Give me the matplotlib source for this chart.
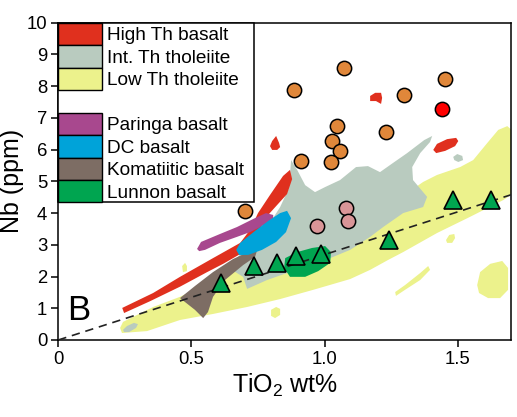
import matplotlib.pyplot as plt
from matplotlib.patches import Patch

plt.rcParams['font.family'] = ['Liberation Sans', 'DejaVu Sans']
plt.rcParams['mathtext.default'] = 'regular'

# sample points (TiO2 wt%, Nb ppm)
orange_tio2 = [0.885, 1.071, 1.452, 1.298, 1.047, 1.232, 1.029, 1.056, 0.912, 1.024, 0.701]
orange_nb = [7.88, 8.56, 8.22, 7.72, 6.74, 6.55, 6.28, 5.96, 5.65, 5.61, 4.07]
red_tio2 = [1.439]
red_nb = [7.29]
pink_tio2 = [0.971, 1.081, 1.087]
pink_nb = [3.59, 4.15, 3.76]
lunnon_tio2 = [0.610, 0.733, 0.820, 0.893, 0.986, 1.240, 1.482, 1.624]
lunnon_nb = [1.81, 2.33, 2.42, 2.64, 2.71, 3.16, 4.42, 4.40]

# reference line through origin
ref_x = [0, 1.72]
ref_y = [0, 4.63]

# compositional fields, outlines as (TiO2, Nb)
low_th = [(0.239, 0.22), (0.333, 0.28), (0.457, 0.63), (0.581, 0.82), (0.709, 1.04), (0.833, 1.29),
          (0.957, 1.58), (1.096, 1.92), (1.171, 2.21), (1.238, 2.52), (1.295, 2.77), (1.422, 3.37),
          (1.546, 3.88), (1.671, 4.41), (1.716, 4.66), (1.716, 6.52), (1.686, 6.74), (1.652, 6.62),
          (1.611, 6.21), (1.558, 5.67), (1.509, 5.45), (1.422, 5.20), (1.370, 4.98), (1.284, 4.48),
          (1.171, 3.94), (1.058, 3.47), (0.908, 2.99), (0.758, 2.46), (0.607, 1.99), (0.544, 1.73),
          (0.457, 1.36), (0.356, 1.04), (0.243, 0.57), (0.232, 0.38)]
low_th_small = [
    [(0.465, 2.33), (0.476, 2.43), (0.483, 2.33), (0.483, 2.17), (0.468, 2.14)],
    [(0.799, 0.95), (0.818, 1.04), (0.833, 0.98), (0.833, 0.79), (0.814, 0.69), (0.799, 0.76)],
    [(1.456, 3.15), (1.468, 3.31), (1.487, 3.34), (1.490, 3.21), (1.479, 3.06), (1.460, 3.06)],
    [(1.265, 1.51), (1.302, 1.73), (1.359, 2.11), (1.389, 2.33), (1.396, 2.21), (1.359, 1.89),
     (1.302, 1.58), (1.268, 1.39)],
    [(1.573, 1.73), (1.584, 2.14), (1.622, 2.40), (1.667, 2.49), (1.689, 2.27), (1.689, 1.58),
     (1.659, 1.32), (1.614, 1.32), (1.580, 1.48)],
]

int_th = [(0.874, 5.67), (0.897, 5.36), (0.927, 4.88), (0.964, 4.66), (1.002, 4.82), (1.058, 5.04),
          (1.118, 5.45), (1.163, 5.48), (1.208, 5.29), (1.257, 5.58), (1.310, 5.89), (1.374, 6.30),
          (1.404, 6.43), (1.396, 6.24), (1.359, 5.89), (1.329, 5.45), (1.332, 5.04), (1.385, 4.51),
          (1.370, 4.19), (1.295, 4.00), (1.220, 3.56), (1.171, 3.25), (1.096, 2.84), (1.021, 2.58),
          (0.859, 2.11), (0.784, 1.89), (0.709, 1.61), (0.694, 1.99), (0.634, 2.30), (0.720, 2.99),
          (0.795, 3.69), (0.833, 4.19), (0.863, 4.73), (0.870, 5.20)]
int_th_small = [
    [(1.483, 5.77), (1.498, 5.86), (1.517, 5.80), (1.520, 5.67), (1.502, 5.61), (1.487, 5.67)],
    [(0.243, 0.32), (0.258, 0.44), (0.284, 0.54), (0.299, 0.50), (0.292, 0.38), (0.266, 0.25), (0.247, 0.25)],
]

high_th = [(0.240, 1.01), (0.356, 1.48), (0.457, 1.99), (0.581, 2.58), (0.683, 3.06), (0.720, 3.47),
           (0.750, 4.00), (0.795, 4.57), (0.844, 5.17), (0.870, 5.36), (0.878, 5.07), (0.859, 4.60),
           (0.818, 4.22), (0.777, 3.84), (0.743, 3.21), (0.694, 2.76), (0.619, 2.40), (0.559, 2.14),
           (0.457, 1.68), (0.344, 1.22), (0.247, 0.85)]
high_th_small = [
    [(0.818, 6.43), (0.829, 6.21), (0.833, 6.08), (0.822, 5.99), (0.803, 5.99), (0.795, 6.11), (0.803, 6.27)],
    [(1.171, 7.69), (1.190, 7.79), (1.212, 7.79), (1.216, 7.63), (1.212, 7.44), (1.193, 7.53), (1.171, 7.53)],
    [(1.408, 5.99), (1.422, 6.18), (1.460, 6.33), (1.494, 6.37), (1.502, 6.27), (1.490, 6.11),
     (1.453, 5.96), (1.419, 5.89)],
]

komatiitic = [(0.457, 1.32), (0.513, 1.70), (0.581, 2.14), (0.656, 2.55), (0.720, 2.80), (0.747, 2.84),
              (0.739, 2.62), (0.694, 2.36), (0.626, 1.89), (0.581, 1.36), (0.562, 0.88), (0.544, 0.69),
              (0.513, 0.95)]
paringa = [(0.521, 2.87), (0.536, 3.09), (0.607, 3.34), (0.671, 3.56), (0.731, 3.81), (0.780, 4.00),
           (0.807, 3.94), (0.807, 3.78), (0.765, 3.59), (0.720, 3.40), (0.671, 3.25), (0.607, 3.06),
           (0.551, 2.84), (0.529, 2.80)]
dc = [(0.668, 2.84), (0.683, 3.06), (0.739, 3.44), (0.788, 3.75), (0.833, 4.00), (0.859, 4.07),
      (0.874, 3.84), (0.855, 3.40), (0.818, 3.09), (0.765, 2.84), (0.713, 2.68), (0.679, 2.68)]
lunnon = [(0.852, 2.58), (0.897, 2.77), (0.953, 2.90), (1.002, 2.96), (1.024, 2.77), (1.021, 2.43),
          (0.976, 2.17), (0.927, 1.99), (0.870, 1.99), (0.848, 2.27)]

legend_labels = ["High Th basalt", "Int. Th tholeiite", "Low Th tholeiite", "",
                 "Paringa basalt", "DC basalt", "Komatiitic basalt", "Lunnon basalt"]

c_high = '#e0301e'
c_int = '#b9cbbf'
c_low = '#ecf28c'
c_par = '#a8488e'
c_dc = '#00a3d9'
c_kom = '#7d6d64'
c_lun = '#00a550'


def fill_field(ax, pts, color):
    xs = [p[0] for p in pts]
    ys = [p[1] for p in pts]
    ax.fill(xs, ys, color=color, lw=0, zorder=1)


fig = plt.figure(figsize=(5.17, 4.17), dpi=100)
ax = fig.add_axes([0.1128, 0.1847, 0.8756, 0.7609])

fill_field(ax, low_th, c_low)
for p in low_th_small:
    fill_field(ax, p, c_low)
fill_field(ax, int_th, c_int)
for p in int_th_small:
    fill_field(ax, p, c_int)
fill_field(ax, high_th, c_high)
for p in high_th_small:
    fill_field(ax, p, c_high)
fill_field(ax, komatiitic, c_kom)
fill_field(ax, paringa, c_par)
fill_field(ax, dc, c_dc)
fill_field(ax, lunnon, c_lun)

ax.plot(ref_x, ref_y, color='#222222', lw=1.2, ls=(0, (5, 3.5)), zorder=3)

ax.plot(orange_tio2, orange_nb, 'o', ms=10.3, mfc='#e0873a', mec='black', mew=1.1, zorder=4)
ax.plot(red_tio2, red_nb, 'o', ms=10.3, mfc='#ff0000', mec='black', mew=1.1, zorder=4)
ax.plot(pink_tio2, pink_nb, 'o', ms=10.3, mfc='#d99597', mec='black', mew=1.1, zorder=4)
ax.plot(lunnon_tio2, lunnon_nb, '^', ms=13.5, mfc='#00a550', mec='black', mew=1.2, zorder=4)

ax.set_xlim(0, 1.70)
ax.set_ylim(0, 10)
ax.set_xticks([0, 0.5, 1.0, 1.5])
ax.set_xticklabels(["0", "0.5", "1.0", "1.5"])
ax.set_yticks(range(0, 11))
ax.tick_params(direction='out', length=5, width=1.1, labelsize=13.3, pad=3)
for s in ax.spines.values():
    s.set_linewidth(1.1)

ax.set_xlabel("TiO$_2$ wt%", fontsize=18, labelpad=3)
ax.set_ylabel("Nb (ppm)", fontsize=18, labelpad=2)

ax.text(0.019, 0.063, "B", transform=ax.transAxes, fontsize=25, va='baseline', ha='left')

handle_colors = [c_high, c_int, c_low, None, c_par, c_dc, c_kom, c_lun]
handles = []
for c in handle_colors:
    if c is None:
        handles.append(Patch(facecolor='none', edgecolor='none'))
    else:
        handles.append(Patch(facecolor=c, edgecolor='black', linewidth=1.0))

leg = ax.legend(handles, legend_labels, loc='upper left', bbox_to_anchor=(0, 0.43, 0.432, 0.57),
                mode='expand', borderaxespad=0, borderpad=0, labelspacing=0, handlelength=2.28,
                handleheight=1.44, handletextpad=0.28, fontsize=13.7, fancybox=False,
                edgecolor='black', framealpha=1)
leg.get_frame().set_linewidth(1.1)
leg.set_zorder(6)

fig.savefig("out.png", dpi=100)
